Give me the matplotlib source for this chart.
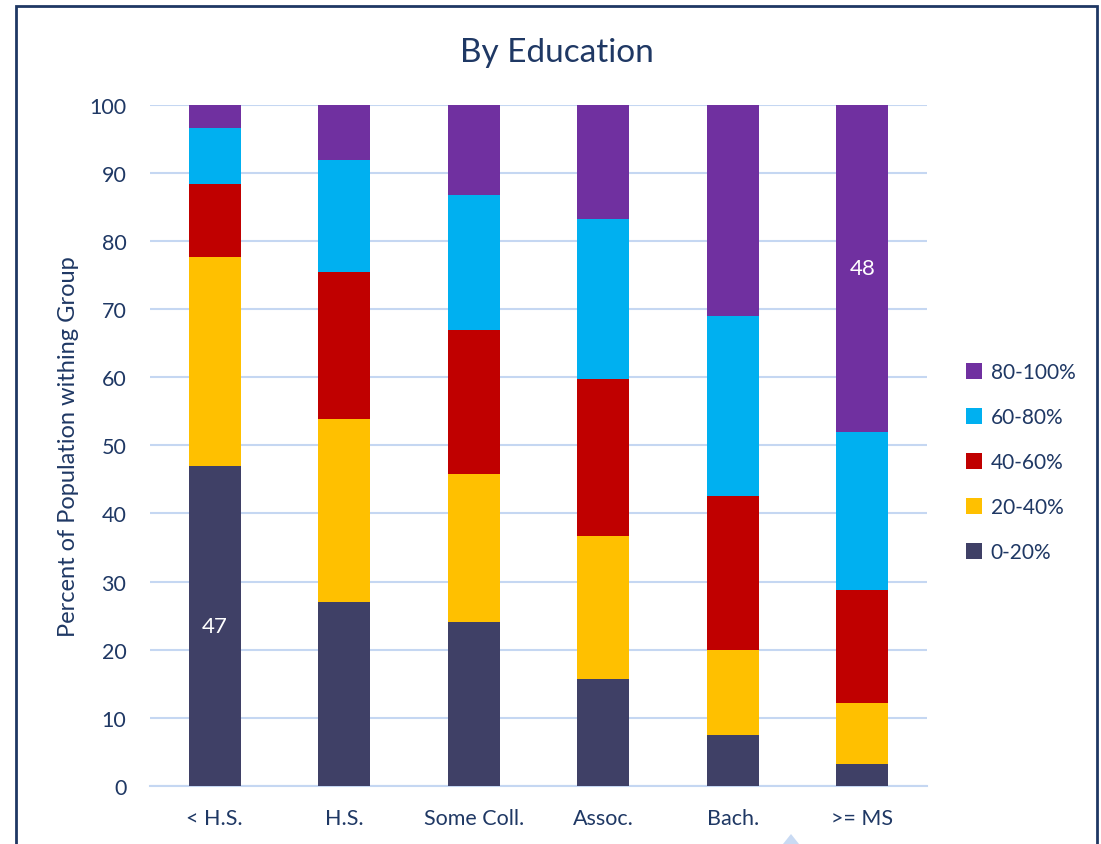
import matplotlib.pyplot as plt
from matplotlib.patches import Rectangle, Polygon

plt.rcParams['font.family'] = ['Lato', 'DejaVu Sans']

categories = ['< H.S.', 'H.S.', 'Some Coll.', 'Assoc.', 'Bach.', '>= MS']
series_names = ['0-20%', '20-40%', '40-60%', '60-80%', '80-100%']
q1 = [47.0, 27.0, 24.0, 15.7, 7.5, 3.2]
q2 = [30.6, 26.9, 21.8, 21.0, 12.5, 9.0]
q3 = [10.7, 21.5, 21.1, 23.0, 22.6, 16.6]
q4 = [8.2, 16.5, 19.8, 23.5, 26.4, 23.2]
q5 = [3.5, 8.1, 13.3, 16.8, 31.0, 48.0]
series = [q1, q2, q3, q4, q5]
colors = ['#3F4066', '#FFC000', '#C00000', '#00B0F0', '#7030A0']

navy = '#1F3864'
grid_blue = '#C5D7F2'

fig = plt.figure(figsize=(11.01, 8.45), dpi=100)
ax = fig.add_axes([0.1362, 0.0686, 0.7058, 0.8065])

x = range(len(categories))
bottom = [0.0] * len(categories)
bars = []
for vals, name, col in zip(series, series_names, colors):
    b = ax.bar(x, vals, width=0.4, bottom=bottom, color=col, label=name, zorder=3)
    bars.append(b)
    bottom = [bt + v for bt, v in zip(bottom, vals)]

# value labels on the first and last segments
ax.bar_label(bars[0], labels=[f'{q1[0]:.0f}', '', '', '', '', ''],
             label_type='center', color='white', fontsize=16)
ax.bar_label(bars[4], labels=['', '', '', '', '', f'{q5[5]:.0f}'],
             label_type='center', color='white', fontsize=16)

ax.set_xlim(-0.5, len(categories) - 0.5)
ax.set_ylim(0, 100)
ax.set_yticks(range(0, 101, 10))
ax.set_xticks(list(x))
ax.set_xticklabels(categories)
ax.tick_params(axis='both', length=0, colors=navy, labelsize=15.5)
ax.tick_params(axis='y', pad=17)
ax.tick_params(axis='x', pad=16)
ax.yaxis.grid(True, color=grid_blue, linewidth=1.5, zorder=0)
for side in ['top', 'right', 'left']:
    ax.spines[side].set_visible(False)
ax.spines['bottom'].set_color(grid_blue)
ax.spines['bottom'].set_linewidth(1.5)

ax.set_ylabel('Percent of Population withing Group', color=navy, fontsize=17, labelpad=7)
fig.text(0.506, 0.937, 'By Education', ha='center', va='center', color=navy, fontsize=24)

handles, labels = ax.get_legend_handles_labels()
leg = fig.legend(handles[::-1], labels[::-1], loc='center left',
                 bbox_to_anchor=(0.86, 0.452), frameon=False, fontsize=15,
                 handlelength=0.8, handleheight=0.8, handletextpad=0.4,
                 labelspacing=1.2)
for t in leg.get_texts():
    t.set_color(navy)

# chart frame and selection handle
fig.patches.append(Rectangle((16 / 1101, -0.05), (1097 - 16) / 1101, 1 - 7 / 845 + 0.05,
                             transform=fig.transFigure, fill=False,
                             edgecolor=navy, linewidth=2))
fig.patches.append(Polygon([(783 / 1101, 0), (799 / 1101, 0), (791 / 1101, 10 / 845)],
                           closed=True, transform=fig.transFigure,
                           facecolor='#C9DAF3', edgecolor='none'))

fig.savefig('out.png', dpi=100)
